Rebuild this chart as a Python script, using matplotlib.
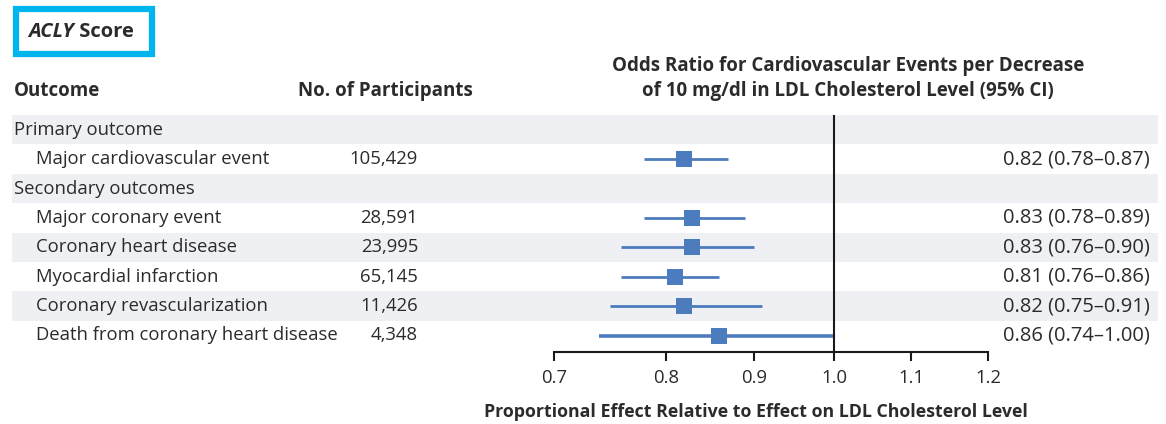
import numpy as np
import matplotlib
matplotlib.use("Agg")
import matplotlib.pyplot as plt
from matplotlib.patches import Rectangle

plt.rcParams["font.family"] = ["Open Sans", "DejaVu Sans"]

# data
ROW_LABELS = [
    "Primary outcome",
    "Major cardiovascular event",
    "Secondary outcomes",
    "Major coronary event",
    "Coronary heart disease",
    "Myocardial infarction",
    "Coronary revascularization",
    "Death from coronary heart disease",
]
IS_GROUP = [True, False, True, False, False, False, False, False]
PARTICIPANTS = [None, 105429, None, 28591, 23995, 65145, 11426, 4348]
OR_EST = [np.nan, 0.82, np.nan, 0.83, 0.83, 0.81, 0.82, 0.86]
OR_LO = [np.nan, 0.78, np.nan, 0.78, 0.76, 0.76, 0.75, 0.74]
OR_HI = [np.nan, 0.87, np.nan, 0.89, 0.90, 0.86, 0.91, 1.00]
X_TICKS = [0.7, 0.8, 0.9, 1.0, 1.1, 1.2]

# layout (pixels)
W, H = 1166, 424
ROW_TOP, ROW_H = 115, 29.4
AX_L, AX_R, AX_B = 554, 988, 352
TICK_POS = [554, 666, 754, 834, 911, 988]  # nonuniform axis as drawn
FS = 13.3

TXT = "#2b2b2b"
BLUE = "#4d7cbe"
BAND = "#eff0f3"

fig = plt.figure(figsize=(W / 100, H / 100), dpi=100)
bg = fig.add_axes([0, 0, 1, 1])
bg.set_xlim(0, W)
bg.set_ylim(H, 0)
bg.axis("off")

n = len(ROW_LABELS)
for i in range(n):
    yc = ROW_TOP + ROW_H * (i + 0.5)
    if i % 2 == 0 and i < n - 1:
        bg.add_patch(Rectangle((12, ROW_TOP + ROW_H * i), 1146, ROW_H,
                               color=BAND, lw=0, zorder=0))
    x = 14 if IS_GROUP[i] else 36
    bg.text(x, yc, ROW_LABELS[i], fontsize=FS, color=TXT, va="center")
    if PARTICIPANTS[i] is not None:
        bg.text(418, yc, f"{PARTICIPANTS[i]:,}", fontsize=FS, color=TXT,
                va="center", ha="right")
    if not np.isnan(OR_EST[i]):
        bg.text(1150, yc,
                f"{OR_EST[i]:.2f} ({OR_LO[i]:.2f}\u2013{OR_HI[i]:.2f})",
                fontsize=14.5, color=TXT, va="center", ha="right")

# headers
bg.text(14, 91, "Outcome", fontsize=13.5, weight="bold", color=TXT,
        va="center")
bg.text(298, 91, "No. of Participants", fontsize=13.5, weight="bold",
        color=TXT, va="center")
bg.text(848, 66, "Odds Ratio for Cardiovascular Events per Decrease",
        fontsize=13.5, weight="bold", color=TXT, va="center", ha="center")
bg.text(848, 91, "of 10 mg/dl in LDL Cholesterol Level (95% CI)",
        fontsize=13.5, weight="bold", color=TXT, va="center", ha="center")
bg.text(756, 412, "Proportional Effect Relative to Effect on LDL Cholesterol Level",
        fontsize=12.8, weight="bold", color=TXT, va="center", ha="center")

# ACLY Score box
bg.add_patch(Rectangle((16, 9), 136, 45, fill=False, ec="#00b4ee", lw=4.5))
t1 = bg.text(28, 32, "ACLY", fontsize=14.5, weight="bold", style="italic",
             color=TXT, va="center")
bg.annotate(" Score", xy=(1, 0), xycoords=t1, va="bottom", fontsize=14.5,
            weight="bold", color=TXT)

# forest axes
ax = fig.add_axes([AX_L / W, 1 - AX_B / H, (AX_R - AX_L) / W,
                   (AX_B - ROW_TOP) / H])
ax.patch.set_alpha(0)


def fwd(x):
    return np.interp(x, X_TICKS, TICK_POS)


def inv(p):
    return np.interp(p, TICK_POS, X_TICKS)


ax.set_xscale("function", functions=(fwd, inv))
ax.set_xlim(X_TICKS[0], X_TICKS[-1])
ax.set_ylim((AX_B - ROW_TOP) / ROW_H, 0)

rows = np.arange(n) + 0.5
for i in range(n):
    if np.isnan(OR_EST[i]):
        continue
    lw = 2.6 if i == n - 1 else 2.0
    ax.plot([OR_LO[i], OR_HI[i]], [rows[i], rows[i]], color=BLUE, lw=lw,
            solid_capstyle="butt", zorder=2)
    ax.plot(OR_EST[i], rows[i], marker="s", ms=11.5, color=BLUE, mew=0,
            zorder=3)

ax.axvline(1.0, color="#1a1a1a", lw=1.5, zorder=4)
for s in ["top", "left", "right"]:
    ax.spines[s].set_visible(False)
ax.spines["bottom"].set_linewidth(1.5)
ax.spines["bottom"].set_color("#1a1a1a")
ax.set_yticks([])
ax.set_xticks(X_TICKS)
ax.set_xticklabels([f"{v:.1f}" for v in X_TICKS])
ax.xaxis.set_minor_locator(matplotlib.ticker.NullLocator())
ax.tick_params(axis="x", direction="out", length=6.5, width=1.5,
               color="#1a1a1a", labelsize=FS, labelcolor=TXT, pad=6)

fig.savefig("out.png", dpi=100)
